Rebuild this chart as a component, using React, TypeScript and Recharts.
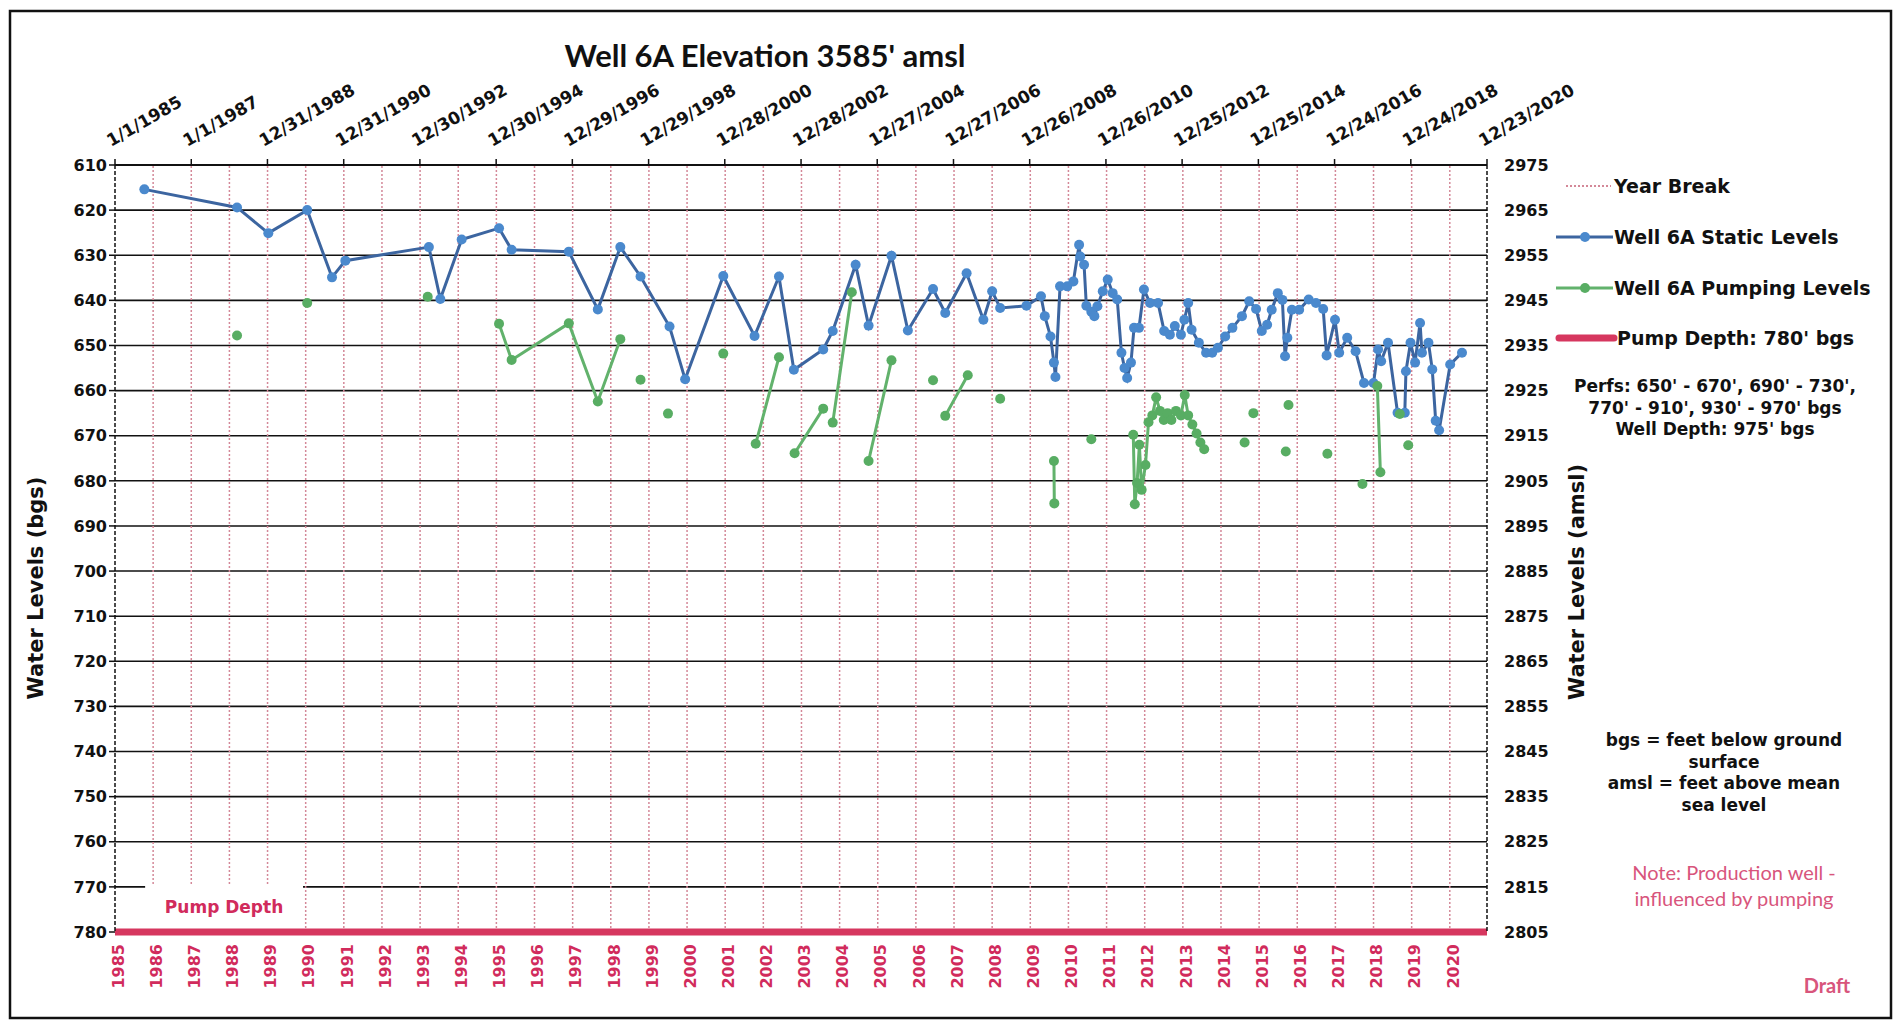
import React from 'react';
import {
  ComposedChart,
  Line,
  XAxis,
  YAxis,
  CartesianGrid,
  ReferenceLine,
  ReferenceArea,
  Label
} from 'recharts';

// ============================================================================
// Data
// ============================================================================

// Well 6A static levels: decimal year, feet below ground surface
const staticYears = [
  1985.77, 1988.2, 1989.02, 1990.04, 1990.69, 1991.04, 1993.23, 1993.53, 1994.09, 1995.07,
  1995.4, 1996.9, 1997.66, 1998.25, 1998.78, 1999.54, 1999.95, 2000.95, 2001.77, 2002.41,
  2002.8, 2003.57, 2003.82, 2004.42, 2004.76, 2005.36, 2005.79, 2006.45, 2006.77, 2007.33,
  2007.77, 2008.0, 2008.21, 2008.9, 2009.28, 2009.38, 2009.53, 2009.62, 2009.66, 2009.78,
  2009.97, 2010.13, 2010.28, 2010.31, 2010.41, 2010.47, 2010.6, 2010.68, 2010.76, 2010.9,
  2011.03, 2011.16, 2011.28, 2011.39, 2011.47, 2011.54, 2011.64, 2011.72, 2011.85, 2011.98,
  2012.14, 2012.35, 2012.51, 2012.66, 2012.79, 2012.95, 2013.04, 2013.14, 2013.23, 2013.42,
  2013.61, 2013.77, 2013.92, 2014.11, 2014.3, 2014.55, 2014.74, 2014.92, 2015.07, 2015.21,
  2015.33, 2015.49, 2015.61, 2015.68, 2015.74, 2015.86, 2016.05, 2016.3, 2016.49, 2016.68,
  2016.77, 2016.99, 2017.1, 2017.31, 2017.53, 2017.75, 2018.0, 2018.12, 2018.2, 2018.38,
  2018.63, 2018.82, 2018.85, 2018.97, 2019.09, 2019.22, 2019.27, 2019.44, 2019.54, 2019.63,
  2019.72, 2020.01, 2020.32
];
const staticBgs = [
  615.4, 619.4, 625.1, 620.0, 634.9, 631.2, 628.2, 639.7, 626.5, 624.0,
  628.8, 629.2, 642.0, 628.2, 634.7, 645.8, 657.5, 634.6, 647.9, 634.7,
  655.4, 650.9, 646.8, 632.1, 645.6, 630.1, 646.7, 637.5, 642.8, 634.0,
  644.3, 638.0, 641.7, 641.2, 639.1, 643.5, 648.0, 653.8, 657.0, 636.9,
  636.9, 635.8, 627.7, 630.3, 632.1, 641.2, 642.5, 643.5, 641.3, 638.0,
  635.4, 638.4, 639.8, 651.6, 655.0, 657.2, 653.8, 646.1, 646.1, 637.6,
  640.6, 640.6, 646.8, 647.6, 645.7, 647.6, 644.3, 640.6, 646.5, 649.4,
  651.6, 651.6, 650.5, 648.0, 646.1, 643.5, 640.2, 641.9, 646.8, 645.4,
  642.1, 638.4, 639.9, 652.4, 648.3, 642.1, 642.1, 639.8, 640.6, 641.9,
  652.2, 644.3, 651.6, 648.3, 651.3, 658.3, 658.3, 650.9, 653.5, 649.4,
  664.9, 664.9, 655.7, 649.4, 653.8, 645.0, 651.6, 649.4, 655.3, 666.7,
  668.8, 654.2, 651.6
];

// Well 6A pumping levels: decimal year, feet bgs, and the run each reading belongs to
const pumpingYears = [
  1988.2, 1990.04, 1993.2, 1995.07, 1995.4, 1996.9, 1997.66, 1998.25, 1998.78, 1999.5,
  2000.95, 2001.8, 2002.41, 2002.82, 2003.57, 2003.82, 2004.32, 2004.76, 2005.36, 2006.45,
  2006.77, 2007.36, 2008.21, 2009.62, 2009.63, 2010.6, 2011.7, 2011.74, 2011.8, 2011.86,
  2011.92, 2012.02, 2012.1, 2012.2, 2012.3, 2012.4, 2012.5, 2012.6, 2012.7, 2012.82,
  2012.95, 2013.05, 2013.14, 2013.25, 2013.36, 2013.46, 2013.56, 2014.62, 2014.85, 2015.7,
  2015.77, 2016.79, 2017.71, 2018.1, 2018.18, 2018.69, 2018.91
];
const pumpingBgs = [
  647.8, 640.6, 639.2, 645.2, 653.2, 645.1, 662.4, 648.6, 657.6, 665.1,
  651.8, 671.8, 652.6, 673.9, 664.0, 667.1, 638.2, 675.6, 653.3, 657.7,
  665.6, 656.6, 661.8, 675.6, 685.0, 670.8, 669.8, 685.2, 680.5, 672.0,
  682.0, 676.5, 667.0, 665.5, 661.5, 664.5, 666.5, 665.0, 666.5, 664.5,
  665.5, 661.0, 665.5, 667.5, 669.5, 671.5, 673.0, 671.5, 665.0, 673.5,
  663.2, 674.0, 680.7, 659.0, 678.1, 665.2, 672.1
];
const pumpingRun = [
  1, 2, 3, 4, 4, 4, 4, 4, 5, 6,
  7, 8, 8, 9, 9, 10, 10, 11, 11, 12,
  13, 13, 14, 15, 15, 16, 17, 17, 17, 17,
  17, 17, 17, 17, 17, 17, 17, 17, 17, 17,
  17, 17, 17, 17, 17, 17, 17, 18, 19, 20,
  21, 22, 23, 24, 24, 25, 26
];

const topTickLabels = [
  '1/1/1985', '1/1/1987', '12/31/1988', '12/31/1990', '12/30/1992', '12/30/1994',
  '12/29/1996', '12/29/1998', '12/28/2000', '12/28/2002', '12/27/2004', '12/27/2006',
  '12/26/2008', '12/26/2010', '12/25/2012', '12/25/2014', '12/24/2016', '12/24/2018',
  '12/23/2020'
];
const yearLabels = [
  1985, 1986, 1987, 1988, 1989, 1990, 1991, 1992, 1993, 1994, 1995, 1996,
  1997, 1998, 1999, 2000, 2001, 2002, 2003, 2004, 2005, 2006, 2007, 2008,
  2009, 2010, 2011, 2012, 2013, 2014, 2015, 2016, 2017, 2018, 2019, 2020
];
const bgsTicks = [610, 620, 630, 640, 650, 660, 670, 680, 690, 700, 710, 720, 730, 740, 750, 760, 770, 780];
const amslTicks = [2975, 2965, 2955, 2945, 2935, 2925, 2915, 2905, 2895, 2885, 2875, 2865, 2855, 2845, 2835, 2825, 2815, 2805];

const PUMP_DEPTH = 780;

// ============================================================================
// Helpers
// ============================================================================

function toDecimalYear(label: string): number {
  const [m, d, y] = label.split('/').map(Number);
  const start = Date.UTC(y, 0, 1);
  const end = Date.UTC(y + 1, 0, 1);
  return y + (Date.UTC(y, m - 1, d) - start) / (end - start);
}

const topTickYears = topTickLabels.map(toDecimalYear);
const X_DOMAIN: [number, number] = [topTickYears[0], topTickYears[topTickYears.length - 1]];
const yearBreaks = yearLabels.slice(1);

const staticData = staticYears.map((year, i) => ({ year, bgs: staticBgs[i] }));

const pumpingData: { year: number; bgs: number | null }[] = [];
pumpingYears.forEach((year, i) => {
  if (i > 0 && pumpingRun[i] !== pumpingRun[i - 1]) {
    pumpingData.push({ year, bgs: null });
  }
  pumpingData.push({ year, bgs: pumpingBgs[i] });
});

// ============================================================================
// Styles
// ============================================================================

const AX_FONT = '"DejaVu Sans", Arial, sans-serif';
const TITLE_FONT = 'Lato, "Open Sans", sans-serif';
const INK = '#111';
const RED_TEXT = '#d12b5c';
const PUMP_RED = '#d6375f';
const NOTE_PINK = '#d8557c';
const YEAR_BREAK = '#d48898';
const STATIC_LINE = '#3c65a0';
const STATIC_DOT = '#4a89cd';
const PUMP_LINE = '#62b26c';
const PUMP_DOT = '#58ad63';

const W = 1886;
const H = 1010;

// ============================================================================
// Tick renderers
// ============================================================================

const TopTick = (props: any) => {
  const { x, y, index, payload } = props;
  let i = topTickYears.findIndex(v => Math.abs(v - payload.value) < 1e-6);
  if (i < 0) i = index;
  const tx = x - 4;
  const ty = y - 10;
  return (
    <text
      x={tx}
      y={ty}
      transform={`rotate(-30, ${tx}, ${ty})`}
      fontFamily={AX_FONT}
      fontSize={17}
      fontWeight="bold"
      fill={INK}
    >
      {topTickLabels[i]}
    </text>
  );
};

const YearTick = (props: any) => {
  const { x, y, payload } = props;
  const tx = x + 3;
  return (
    <text
      x={tx}
      y={y}
      dy="0.36em"
      transform={`rotate(-90, ${tx}, ${y})`}
      textAnchor="end"
      fontFamily={AX_FONT}
      fontSize={16}
      fontWeight="bold"
      fill={RED_TEXT}
    >
      {payload.value}
    </text>
  );
};

// ============================================================================
// Chart
// ============================================================================

export default function App() {
  const legendText = { fontFamily: AX_FONT, fontSize: 19, fontWeight: 'bold' as const, fill: INK };
  const noteText = { fontFamily: AX_FONT, fontSize: 17, fontWeight: 'bold' as const, fill: INK };

  return (
    <div style={{ position: 'relative', width: W, height: 1013, background: '#fff' }}>
      <ComposedChart
        width={W}
        height={H}
        margin={{ top: 67, right: 327, bottom: 26, left: 37 }}
      >
        <CartesianGrid
          xAxisId="bottom"
          yAxisId="bgs"
          vertical={false}
          stroke={INK}
          strokeWidth={1.6}
        />
        <XAxis
          xAxisId="bottom"
          dataKey="year"
          type="number"
          domain={X_DOMAIN}
          allowDataOverflow
          ticks={yearLabels}
          interval={0}
          height={60}
          axisLine={false}
          tickLine={false}
          tickSize={6}
          tickMargin={6}
          tick={<YearTick />}
        />
        <XAxis
          xAxisId="top"
          dataKey="year"
          orientation="top"
          type="number"
          domain={X_DOMAIN}
          allowDataOverflow
          ticks={topTickYears}
          interval={0}
          height={90}
          axisLine={{ stroke: INK, strokeWidth: 2 }}
          tickLine={{ stroke: INK, strokeWidth: 1.5 }}
          tickSize={6}
          tickMargin={2}
          tick={<TopTick />}
        />
        <YAxis
          yAxisId="bgs"
          type="number"
          domain={[610, 780]}
          reversed
          allowDataOverflow
          ticks={bgsTicks}
          interval={0}
          width={70}
          axisLine={{ stroke: INK, strokeWidth: 1.5, strokeDasharray: '4 2' }}
          tickLine={{ stroke: INK, strokeWidth: 1.5 }}
          tickSize={6}
          tickMargin={2}
          tick={{ fontFamily: AX_FONT, fontSize: 16, fontWeight: 'bold', fill: INK }}
        />
        <YAxis
          yAxisId="amsl"
          orientation="right"
          type="number"
          domain={[2805, 2975]}
          allowDataOverflow
          ticks={amslTicks}
          interval={0}
          width={80}
          axisLine={{ stroke: INK, strokeWidth: 1.5, strokeDasharray: '4 2' }}
          tickLine={false}
          tickSize={6}
          tickMargin={11}
          tick={{ fontFamily: AX_FONT, fontSize: 16, fontWeight: 'bold', fill: INK }}
        />

        {yearBreaks.map(yr => (
          <ReferenceLine
            key={yr}
            x={yr}
            xAxisId="bottom"
            yAxisId="bgs"
            stroke={YEAR_BREAK}
            strokeWidth={1.5}
            strokeDasharray="2 2"
            zIndex={50}
          />
        ))}

        <ReferenceArea
          xAxisId="bottom"
          yAxisId="bgs"
          x1={1985.79}
          x2={1989.93}
          y1={769.6}
          y2={779.1}
          fill="#fff"
          fillOpacity={1}
          stroke="none"
          zIndex={450}
        >
          <Label
            value="Pump Depth"
            position="center"
            fill={RED_TEXT}
            fontFamily={AX_FONT}
            fontSize={17}
            fontWeight="bold"
          />
        </ReferenceArea>

        <ReferenceLine
          y={PUMP_DEPTH}
          xAxisId="bottom"
          yAxisId="bgs"
          stroke={PUMP_RED}
          strokeWidth={7}
          zIndex={460}
        />

        {/* invisible series so the top date axis has data attached */}
        <Line
          data={staticData}
          xAxisId="top"
          yAxisId="bgs"
          dataKey="bgs"
          stroke="none"
          dot={false}
          activeDot={false}
          legendType="none"
          isAnimationActive={false}
        />

        <Line
          data={staticData}
          xAxisId="bottom"
          yAxisId="bgs"
          dataKey="bgs"
          type="linear"
          stroke={STATIC_LINE}
          strokeWidth={3}
          dot={{ r: 5, fill: STATIC_DOT, stroke: STATIC_DOT, strokeWidth: 0 }}
          activeDot={false}
          isAnimationActive={false}
        />
        <Line
          data={pumpingData}
          xAxisId="bottom"
          yAxisId="bgs"
          dataKey="bgs"
          type="linear"
          stroke={PUMP_LINE}
          strokeWidth={3}
          connectNulls={false}
          dot={{ r: 5, fill: PUMP_DOT, stroke: PUMP_DOT, strokeWidth: 0 }}
          activeDot={false}
          isAnimationActive={false}
        />
      </ComposedChart>

      <svg
        width={W}
        height={1013}
        style={{ position: 'absolute', left: 0, top: 0, pointerEvents: 'none' }}
      >
        <rect x={2} y={3} width={1881} height={1007} fill="none" stroke={INK} strokeWidth={2.5} />

        <text
          x={757}
          y={47}
          textAnchor="middle"
          dominantBaseline="central"
          fontFamily={TITLE_FONT}
          fontSize={31}
          fontWeight="bold"
          fill={INK}
        >
          Well 6A Elevation 3585' amsl
        </text>

        <text
          x={28}
          y={580}
          transform="rotate(-90, 28, 580)"
          textAnchor="middle"
          dominantBaseline="central"
          fontFamily={AX_FONT}
          fontSize={21}
          fontWeight="bold"
          fill={INK}
        >
          Water Levels (bgs)
        </text>
        <text
          x={1569}
          y={574}
          transform="rotate(-90, 1569, 574)"
          textAnchor="middle"
          dominantBaseline="central"
          fontFamily={AX_FONT}
          fontSize={21}
          fontWeight="bold"
          fill={INK}
        >
          Water Levels (amsl)
        </text>

        {/* legend */}
        <line x1={1558} y1={178} x2={1603} y2={178} stroke={YEAR_BREAK} strokeWidth={2} strokeDasharray="2 2" />
        <text x={1606} y={178} dominantBaseline="central" {...legendText}>Year Break</text>

        <line x1={1548} y1={229} x2={1605} y2={229} stroke={STATIC_LINE} strokeWidth={3} />
        <circle cx={1577} cy={229} r={5} fill={STATIC_DOT} />
        <text x={1606} y={229} dominantBaseline="central" {...legendText}>Well 6A Static Levels</text>

        <line x1={1548} y1={280} x2={1605} y2={280} stroke={PUMP_LINE} strokeWidth={3} />
        <circle cx={1577} cy={280} r={5} fill={PUMP_DOT} />
        <text x={1606} y={280} dominantBaseline="central" {...legendText}>Well 6A Pumping Levels</text>

        <line x1={1551} y1={330} x2={1606} y2={330} stroke={PUMP_RED} strokeWidth={7} strokeLinecap="round" />
        <text x={1609} y={330} dominantBaseline="central" {...legendText}>Pump Depth: 780' bgs</text>

        {/* well notes */}
        <text x={1707} y={378} textAnchor="middle" dominantBaseline="central" {...noteText}>
          Perfs: 650' - 670', 690' - 730',
        </text>
        <text x={1707} y={400} textAnchor="middle" dominantBaseline="central" {...noteText}>
          770' - 910', 930' - 970' bgs
        </text>
        <text x={1707} y={421} textAnchor="middle" dominantBaseline="central" {...noteText}>
          Well Depth: 975' bgs
        </text>

        <text x={1716} y={732} textAnchor="middle" dominantBaseline="central" {...noteText}>
          bgs = feet below ground
        </text>
        <text x={1716} y={754} textAnchor="middle" dominantBaseline="central" {...noteText}>
          surface
        </text>
        <text x={1716} y={775} textAnchor="middle" dominantBaseline="central" {...noteText}>
          amsl = feet above mean
        </text>
        <text x={1716} y={797} textAnchor="middle" dominantBaseline="central" {...noteText}>
          sea level
        </text>

        <text
          x={1726}
          y={864}
          textAnchor="middle"
          dominantBaseline="central"
          fontFamily={TITLE_FONT}
          fontSize={20}
          fill={NOTE_PINK}
        >
          Note: Production well -
        </text>
        <text
          x={1726}
          y={890}
          textAnchor="middle"
          dominantBaseline="central"
          fontFamily={TITLE_FONT}
          fontSize={20}
          fill={NOTE_PINK}
        >
          influenced by pumping
        </text>

        <text
          x={1819}
          y={977}
          textAnchor="middle"
          dominantBaseline="central"
          fontFamily={TITLE_FONT}
          fontSize={20}
          fontWeight="bold"
          fill={NOTE_PINK}
        >
          Draft
        </text>
      </svg>
    </div>
  );
}
